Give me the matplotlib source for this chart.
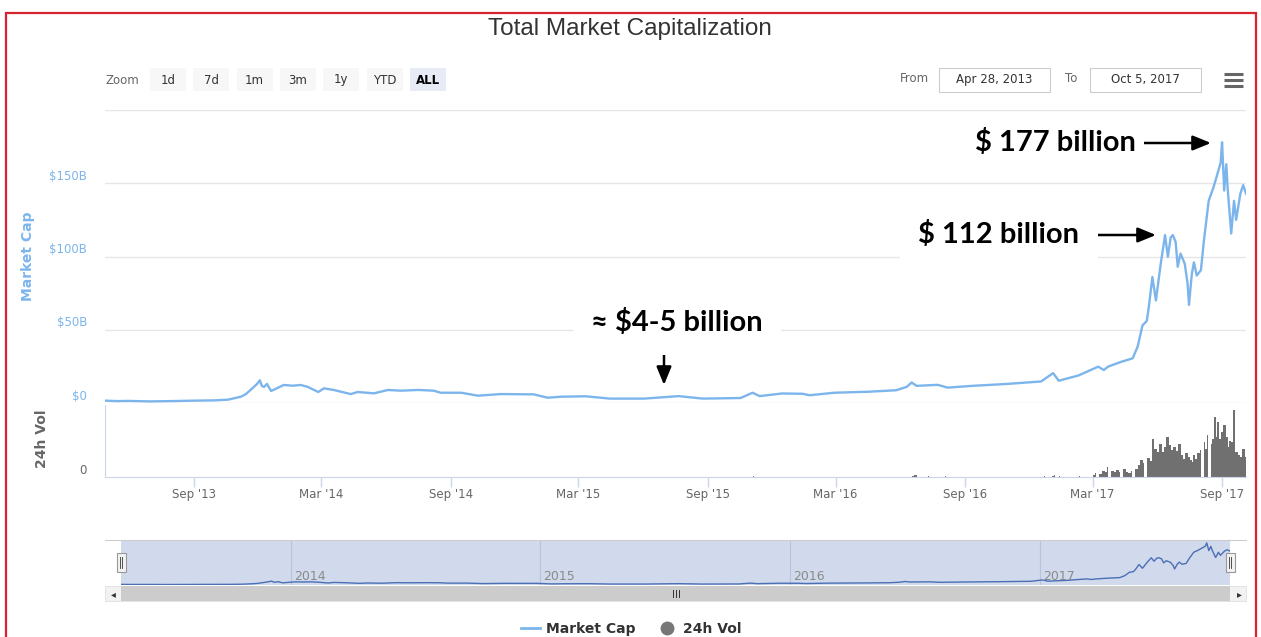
import matplotlib
matplotlib.use('Agg')
import matplotlib.pyplot as plt
import matplotlib.dates as mdates
from matplotlib.patches import Rectangle, FancyArrowPatch
from matplotlib.lines import Line2D
from matplotlib.transforms import ScaledTranslation
import numpy as np
import pandas as pd

# ---------------- data ----------------
cap_dates = ['2013-04-28', '2013-05-15', '2013-06-01', '2013-07-01', '2013-08-01', '2013-09-01',
             '2013-10-01', '2013-10-20', '2013-11-07', '2013-11-14', '2013-11-21', '2013-11-30',
             '2013-12-04', '2013-12-07', '2013-12-10', '2013-12-14', '2013-12-20', '2013-12-28',
             '2014-01-07', '2014-01-20', '2014-01-31', '2014-02-10', '2014-02-25', '2014-03-05',
             '2014-03-19', '2014-04-12', '2014-04-22', '2014-05-15', '2014-06-04', '2014-06-22',
             '2014-07-17', '2014-08-08', '2014-08-18', '2014-09-16', '2014-10-10', '2014-11-11',
             '2014-12-28', '2015-01-17', '2015-02-05', '2015-03-12', '2015-04-15', '2015-06-03',
             '2015-07-22', '2015-08-25', '2015-10-18', '2015-11-04', '2015-11-14', '2015-12-16',
             '2016-01-14', '2016-01-24', '2016-02-28', '2016-04-17', '2016-05-26', '2016-06-10',
             '2016-06-17', '2016-06-24', '2016-07-24', '2016-08-07', '2016-09-11', '2016-10-30',
             '2016-12-18', '2017-01-04', '2017-01-12', '2017-02-09', '2017-03-09', '2017-03-17',
             '2017-03-23', '2017-04-10', '2017-04-27', '2017-05-04', '2017-05-11', '2017-05-17',
             '2017-05-20', '2017-05-25', '2017-05-30', '2017-06-06', '2017-06-12', '2017-06-16',
             '2017-06-20', '2017-06-23', '2017-06-27', '2017-06-30', '2017-07-04', '2017-07-10',
             '2017-07-14', '2017-07-16', '2017-07-20', '2017-07-23', '2017-07-27', '2017-08-02',
             '2017-08-06', '2017-08-13', '2017-08-20', '2017-08-27', '2017-08-30', '2017-09-01',
             '2017-09-04', '2017-09-07', '2017-09-09', '2017-09-14', '2017-09-18', '2017-09-21',
             '2017-09-27', '2017-10-01', '2017-10-05']
cap_values = [1.6, 1.3, 1.4, 1.1, 1.3, 1.6,
              1.8, 2.3, 4.3, 6.0, 9.0, 13.0,
              15.5, 11.5, 11.0, 13.0, 8.2, 10.0,
              12.3, 11.8, 12.3, 11.0, 7.5, 10.0,
              8.9, 6.1, 7.5, 6.6, 8.9, 8.4,
              8.9, 8.4, 7.0, 7.0, 5.0, 6.1,
              5.9, 3.6, 4.3, 4.6, 3.0, 3.0,
              4.7, 3.0, 3.4, 7.0, 4.7, 6.5,
              6.3, 5.3, 7.0, 7.7, 8.7, 11.0,
              14.0, 11.7, 12.4, 10.5, 11.7, 13.0,
              14.7, 20.4, 15.2, 18.8, 24.8, 22.5,
              24.8, 28.0, 30.5, 38.4, 53.0, 56.0,
              65.7, 86.0, 70.0, 95.5, 114.6, 99.8,
              113.0, 114.6, 110.0, 93.0, 102.0, 95.0,
              81.6, 67.0, 88.0, 96.0, 87.0, 90.7,
              110.0, 138.0, 147.5, 159.0, 164.0, 178.0,
              145.0, 163.0, 146.0, 115.7, 138.0, 125.0,
              143.0, 148.7, 143.0]

vol_dates = ['2015-11-05', '2016-06-17', '2016-06-20', '2016-06-24', '2016-07-10', '2016-08-03',
             '2016-12-22', '2017-01-02', '2017-01-05', '2017-01-12', '2017-02-10', '2017-02-22',
             '2017-03-01', '2017-03-05', '2017-03-10', '2017-03-14', '2017-03-18', '2017-03-22',
             '2017-03-27', '2017-03-31', '2017-04-04', '2017-04-08', '2017-04-13', '2017-04-17',
             '2017-04-21', '2017-04-25', '2017-04-30', '2017-05-04', '2017-05-08', '2017-05-12',
             '2017-05-17', '2017-05-21', '2017-05-25', '2017-05-28', '2017-06-01', '2017-06-04',
             '2017-06-08', '2017-06-11', '2017-06-14', '2017-06-17', '2017-06-20', '2017-06-23',
             '2017-06-27', '2017-06-30', '2017-07-04', '2017-07-08', '2017-07-11', '2017-07-14',
             '2017-07-17', '2017-07-20', '2017-07-22', '2017-07-25', '2017-07-28', '2017-08-01',
             '2017-08-06', '2017-08-08', '2017-08-11', '2017-08-16', '2017-08-18', '2017-08-20',
             '2017-08-23', '2017-08-25', '2017-08-28', '2017-08-30', '2017-09-02', '2017-09-03',
             '2017-09-06', '2017-09-09', '2017-09-11', '2017-09-13', '2017-09-16', '2017-09-17',
             '2017-09-20', '2017-09-23', '2017-09-27', '2017-09-30', '2017-10-03', '2017-10-05']
vol_values = [0.12, 0.15, 0.2, 0.12, 0.1, 0.12,
              0.1, 0.15, 0.25, 0.12, 0.1, 0.12,
              0.21, 0.42, 0.32, 0.63, 0.53, 1.05,
              0.63, 0.53, 0.74, 0.53, 0.84, 0.53,
              0.42, 0.63, 0.84, 1.26, 1.79, 1.47,
              2.0, 1.68, 3.99, 2.94, 2.63, 3.47,
              2.63, 3.15, 4.2, 3.36, 2.84, 3.15,
              2.73, 3.47, 2.31, 1.89, 2.52, 2.1,
              1.79, 1.58, 2.31, 1.89, 2.52, 2.84,
              3.68, 2.94, 4.41, 3.47, 3.99, 6.3,
              4.2, 5.78, 3.99, 4.73, 3.68, 5.46,
              4.2, 3.15, 3.78, 3.68, 4.2, 7.04,
              2.63, 2.31, 2.1, 2.94, 2.1, 1.89]

x_tick_dates = ['2013-09-01', '2014-03-01', '2014-09-01', '2015-03-01', '2015-09-01',
                '2016-03-01', '2016-09-01', '2017-03-01', '2017-09-01']
x_tick_labels = ["Sep '13", "Mar '14", "Sep '14", "Mar '15", "Sep '15",
                 "Mar '16", "Sep '16", "Mar '17", "Sep '17"]
y_ticks = [0, 50, 100, 150]
y_tick_labels = ['$0', '$50B', '$100B', '$150B']
nav_year_dates = ['2014-01-01', '2015-01-01', '2016-01-01', '2017-01-01']
nav_year_labels = ['2014', '2015', '2016', '2017']
zoom_buttons = ['1d', '7d', '1m', '3m', '1y', 'YTD', 'ALL']
range_from = 'Apr 28, 2013'
range_to = 'Oct 5, 2017'
x_start, x_end = '2013-04-28', '2017-10-05'

# ---------------- figure helpers ----------------
W, H, DPI = 1261, 637, 100
fig = plt.figure(figsize=(W / DPI, H / DPI), dpi=DPI)
fig.patch.set_facecolor('white')


def fx(x):
    return x / W


def fy(y):
    return 1 - y / H


def axes_px(l, t, r, b):
    return fig.add_axes([fx(l), fy(b), (r - l) / W, (b - t) / H])


def rect_px(x0, y0, x1, y1, **kw):
    r = Rectangle((fx(x0), fy(y1)), (x1 - x0) / W, (y1 - y0) / H,
                  transform=fig.transFigure, **kw)
    fig.add_artist(r)
    return r


def line_px(xs, ys, **kw):
    fig.add_artist(Line2D([fx(x) for x in xs], [fy(y) for y in ys],
                          transform=fig.transFigure, **kw))


cd = mdates.date2num(pd.to_datetime(cap_dates))
vd = mdates.date2num(pd.to_datetime(vol_dates))
xd = mdates.date2num(pd.to_datetime(x_tick_dates))
nd = mdates.date2num(pd.to_datetime(nav_year_dates))
x0d, x1d = mdates.date2num(pd.to_datetime([x_start, x_end]))

BLUE = '#7cb5ec'
GRID = '#e6e6e6'
AXIS = '#ccd6eb'

# ---------------- main pane ----------------
ax = axes_px(105, 110, 1246, 403)
ax.plot(cd, cap_values, color=BLUE, lw=1.7, solid_joinstyle='round', zorder=3)
ax.set_xlim(x0d, x1d)
ax.set_ylim(0, 200)
ax.set_yticks([0, 50, 100, 150, 200])
ax.grid(axis='y', color=GRID, lw=1)
ax.tick_params(left=False, bottom=False, labelleft=False, labelbottom=False)
for s in ax.spines.values():
    s.set_visible(False)
lab_tr = ax.get_yaxis_transform() + ScaledTranslation(-18 / DPI, 7 / DPI, fig.dpi_scale_trans)
for v, t in zip(y_ticks, y_tick_labels):
    ax.text(0, v, t, transform=lab_tr, ha='right', va='center', color=BLUE,
            fontsize=8.5, family='DejaVu Sans')

# ---------------- volume pane ----------------
vax = axes_px(105, 405, 1246, 477)
gaps = np.diff(vd)
widths = np.append(np.minimum(gaps, 5.0), 1.0)
widths = np.where(widths >= 5.0, 1.2, widths)
vax.bar(vd, vol_values, width=widths, align='edge', color='#707070', linewidth=0)
vax.set_xlim(x0d, x1d)
vax.set_ylim(0, 7.6)
vax.set_yticks([])
for s in ['top', 'right']:
    vax.spines[s].set_visible(False)
vax.spines['left'].set_color(AXIS)
vax.spines['bottom'].set_color(AXIS)
vax.set_xticks(xd)
vax.set_xticklabels(x_tick_labels)
vax.tick_params(axis='x', color=AXIS, length=7, width=1, pad=0.8,
                labelsize=8.5, labelcolor='#666666')
vlab_tr = vax.get_yaxis_transform() + ScaledTranslation(-18 / DPI, 7 / DPI, fig.dpi_scale_trans)
vax.text(0, 0, '0', transform=vlab_tr, ha='right', va='center', color='#666666', fontsize=8.5)

# axis titles
fig.text(fx(28), fy(256), 'Market Cap', rotation=90, ha='center', va='center',
         color=BLUE, fontsize=10, weight='bold')
fig.text(fx(42), fy(439), '24h Vol', rotation=90, ha='center', va='center',
         color='#666666', fontsize=10, weight='bold')

# ---------------- title & toolbar ----------------
fig.text(fx(630), fy(29), 'Total Market Capitalization', ha='center', va='center',
         color='#333333', fontsize=17.5, family='Liberation Sans')
fig.text(fx(105), fy(80), 'Zoom', ha='left', va='center', color='#666666', fontsize=8.5)
for i, b in enumerate(zoom_buttons):
    bx = 150 + i * 43.3
    sel = (b == 'ALL')
    rect_px(bx, 68, bx + 36, 91, facecolor='#e6ebf5' if sel else '#f7f7f7', edgecolor='none')
    fig.text(fx(bx + 18), fy(80), b, ha='center', va='center',
             color='#000000' if sel else '#333333', fontsize=8.5,
             weight='bold' if sel else 'normal')
fig.text(fx(914), fy(79), 'From', ha='center', va='center', color='#666666', fontsize=8.5)
rect_px(939, 68, 1050, 92, facecolor='white', edgecolor='#cccccc', lw=0.8)
fig.text(fx(994.5), fy(79), range_from, ha='center', va='center', color='#333333', fontsize=8.5)
fig.text(fx(1071), fy(79), 'To', ha='center', va='center', color='#666666', fontsize=8.5)
rect_px(1090, 68, 1201, 92, facecolor='white', edgecolor='#cccccc', lw=0.8)
fig.text(fx(1145.5), fy(79), range_to, ha='center', va='center', color='#333333', fontsize=8.5)
for yy in (74, 80, 86):
    line_px([1224, 1243], [yy, yy], color='#666666', lw=2.2, solid_capstyle='butt')

# ---------------- navigator ----------------
line_px([105, 1246], [540, 540], color='#cccccc', lw=0.8)
nax = axes_px(121, 540, 1230, 585)
nax.set_facecolor('#d1daed')
nax.plot(cd, cap_values, color='#4a6fb5', lw=1.0)
nax.set_xlim(x0d, x1d)
nax.set_ylim(-1, 190)
nax.set_xticks(nd)
nax.set_yticks([])
nax.grid(axis='x', color='#b8c2d8', lw=0.8)
nax.tick_params(bottom=False, labelbottom=False)
for s in nax.spines.values():
    s.set_visible(False)
ntr = nax.get_xaxis_transform() + ScaledTranslation(3 / DPI, 0, fig.dpi_scale_trans)
for d, t in zip(nd, nav_year_labels):
    nax.text(d, 0.18, t, transform=ntr, ha='left', va='center', color='#8a8a8a', fontsize=9)
# handles
for hx in (121, 1230):
    rect_px(hx - 4.5, 553, hx + 4.5, 572, facecolor='#f2f2f2', edgecolor='#999999', lw=0.8)
    line_px([hx - 1.2, hx - 1.2], [557, 568], color='#333333', lw=0.6)
    line_px([hx + 1.2, hx + 1.2], [557, 568], color='#333333', lw=0.6)

# scrollbar
rect_px(105, 586, 1246, 601, facecolor='#f2f2f2', edgecolor='#e0e0e0', lw=0.6)
rect_px(121, 586, 1230, 601, facecolor='#cccccc', edgecolor='none')
fig.text(fx(113), fy(594), '\u25c2', ha='center', va='center', color='#333333', fontsize=7)
fig.text(fx(1239), fy(594), '\u25b8', ha='center', va='center', color='#333333', fontsize=7)
for gx in (672.5, 675.5, 678.5):
    line_px([gx, gx], [590, 597], color='#333333', lw=0.7)

# legend
handles = [Line2D([], [], color=BLUE, lw=2),
           Line2D([], [], marker='o', color='#777777', ls='none', ms=9)]
leg = fig.legend(handles, ['Market Cap', '24h Vol'], loc='center',
                 bbox_to_anchor=(fx(631), fy(629)), ncol=2, frameon=False,
                 prop=dict(weight='bold', size=10), handlelength=1.4,
                 handletextpad=0.4, columnspacing=1.6)
for t in leg.get_texts():
    t.set_color('#333333')

# ---------------- annotations ----------------
ann_font = dict(family='Lato', weight='bold', fontsize=21, color='black')
fig.text(fx(1055), fy(143), '$ 177 billion', ha='center', va='center',
         bbox=dict(facecolor='white', edgecolor='none', pad=6), **ann_font)
fig.text(fx(999), fy(235), '$ 112 billion', ha='center', va='center',
         bbox=dict(facecolor='white', edgecolor='none', pad=13), **ann_font)
fig.text(fx(677), fy(323), '\u2248 $4-5 billion', ha='center', va='center',
         bbox=dict(facecolor='white', edgecolor='none', pad=13), **ann_font)


def arrow_px(x0, y0, x1, y1):
    fig.add_artist(FancyArrowPatch((fx(x0), fy(y0)), (fx(x1), fy(y1)),
                                   transform=fig.transFigure,
                                   arrowstyle='-|>,head_length=1.1,head_width=0.45',
                                   mutation_scale=10, lw=1.8, color='black',
                                   shrinkA=0, shrinkB=0))


arrow_px(1143, 143, 1211, 143)
arrow_px(1087, 235, 1156, 235)
arrow_px(664, 349, 664, 385)

# red frame
rect_px(6, 13, 1256, 660, facecolor='none', edgecolor='#d9232f', lw=1.6, clip_on=False)

fig.savefig('out.png', dpi=DPI, facecolor='white')
